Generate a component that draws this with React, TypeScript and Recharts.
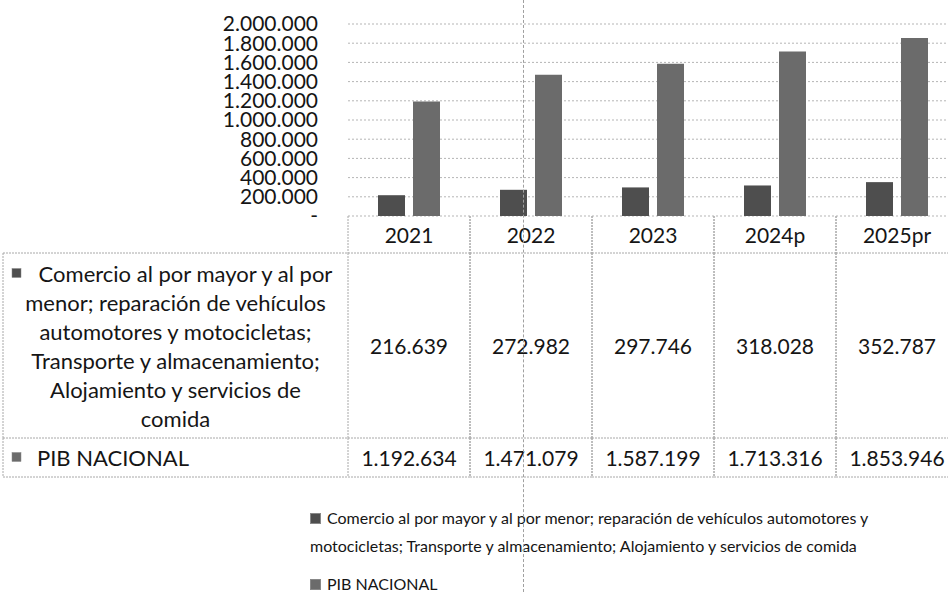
import React from 'react';
import { BarChart, Bar, XAxis, YAxis, CartesianGrid, Legend } from 'recharts';

const years = ['2021', '2022', '2023', '2024p', '2025pr'];
const comercioValues = [216639, 272982, 297746, 318028, 352787];
const pibValues = [1192634, 1471079, 1587199, 1713316, 1853946];
const yTicks = [0, 200000, 400000, 600000, 800000, 1000000, 1200000, 1400000, 1600000, 1800000, 2000000];

const comercioName =
  'Comercio al por mayor y al por menor; reparación de vehículos automotores y motocicletas; Transporte y almacenamiento; Alojamiento y servicios de comida';
const comercioLegendLines = [
  'Comercio al por mayor y al por menor; reparación de vehículos automotores y',
  'motocicletas; Transporte y almacenamiento; Alojamiento y servicios de comida',
];
const comercioTableLines = [
  'Comercio al por mayor y al por',
  'menor; reparación de vehículos',
  'automotores y motocicletas;',
  'Transporte y almacenamiento;',
  'Alojamiento y servicios de',
  'comida',
];
const pibName = 'PIB NACIONAL';

const data = years.map((year, i) => ({ year, comercio: comercioValues[i], pib: pibValues[i] }));

const FONT = 'Lato, "Open Sans", sans-serif';
const TEXT = '#151515';
const BORDER = '#a8a8a8';
const COMERCIO_COLOR = '#4e4e4e';
const PIB_COLOR = '#6b6b6b';
const TABLE_LEFT = 3;

const fmt = (n: number) => (n === 0 ? '-' : String(n).replace(/\B(?=(\d{3})+(?!\d))/g, '.'));

const Icon = ({ x, y, color }: { x: number; y: number; color: string }) => (
  <rect x={x} y={y} width={9} height={9} fill={color} stroke="#888" strokeWidth={0.5} />
);

const makeTick = (rowH: number, kind: 'header' | 'comercio' | 'pib') => (props: any) => {
  const { x, y, payload, index } = props;
  const half = payload && payload.offset ? payload.offset : 61;
  const left = x - half;
  const right = x + half;
  const cy = y + rowH / 2;
  const dash = '2 1';
  let text = '';
  if (kind === 'header') text = String(payload.value);
  else if (kind === 'comercio') text = fmt(comercioValues[index]);
  else text = fmt(pibValues[index]);
  return (
    <g>
      <line x1={left} y1={y} x2={left} y2={y + rowH} stroke={BORDER} strokeDasharray={dash} />
      <line x1={right} y1={y} x2={right} y2={y + rowH} stroke={BORDER} strokeDasharray={dash} />
      <line x1={left} y1={y + rowH} x2={right} y2={y + rowH} stroke={BORDER} strokeDasharray={dash} />
      <text x={x} y={cy} textAnchor="middle" dominantBaseline="central" fontSize={21} fill={TEXT} fontFamily={FONT}>
        {text}
      </text>
      {index === 0 && kind !== 'header' && (
        <g>
          <line x1={TABLE_LEFT} y1={y} x2={TABLE_LEFT} y2={y + rowH} stroke={BORDER} strokeDasharray={dash} />
          <line x1={TABLE_LEFT} y1={y + rowH} x2={left} y2={y + rowH} stroke={BORDER} strokeDasharray={dash} />
          {kind === 'comercio' ? (
            <g>
              <Icon x={TABLE_LEFT + 9} y={cy - 77} color={COMERCIO_COLOR} />
              {comercioTableLines.map((ln, i) => (
                <text
                  key={i}
                  x={(TABLE_LEFT + left) / 2 + (i === 0 ? 10 : 0)}
                  y={cy + (i - (comercioTableLines.length - 1) / 2) * 29}
                  textAnchor="middle"
                  dominantBaseline="central"
                  fontSize={22}
                  fill={TEXT}
                  fontFamily={FONT}
                >
                  {ln}
                </text>
              ))}
            </g>
          ) : (
            <g>
              <Icon x={TABLE_LEFT + 9} y={cy - 5} color={PIB_COLOR} />
              <text x={TABLE_LEFT + 34} y={cy} dominantBaseline="central" fontSize={22} fill={TEXT} fontFamily={FONT}>
                {pibName}
              </text>
            </g>
          )}
        </g>
      )}
      {index === 0 && kind === 'header' && (
        <line x1={TABLE_LEFT} y1={y + rowH} x2={left} y2={y + rowH} stroke={BORDER} strokeDasharray={dash} />
      )}
    </g>
  );
};

const LegendSwatch = ({ color }: { color: string }) => (
  <span
    style={{
      display: 'inline-block',
      width: 9,
      height: 9,
      background: color,
      border: '0.5px solid #888',
      marginRight: 6,
      verticalAlign: 'middle',
      position: 'relative',
      top: -1,
    }}
  />
);

const renderLegend = () => (
  <div style={{ position: 'relative', height: 115, fontFamily: FONT, fontSize: 16, color: TEXT }}>
    <div style={{ position: 'absolute', left: 310, top: 27, lineHeight: '28px', textAlign: 'left', whiteSpace: 'nowrap' }}>
      <LegendSwatch color={COMERCIO_COLOR} />
      {comercioLegendLines[0]}
      <br />
      {comercioLegendLines[1]}
    </div>
    <div style={{ position: 'absolute', left: 310, top: 93, lineHeight: '28px', textAlign: 'left', whiteSpace: 'nowrap' }}>
      <LegendSwatch color={PIB_COLOR} />
      {pibName}
    </div>
  </div>
);

export default function App() {
  return (
    <div style={{ position: 'absolute', left: 0, top: 0, width: 948, height: 592, overflow: 'hidden', background: '#fff' }}>
      <BarChart
        width={958}
        height={592}
        data={data}
        margin={{ top: 24, right: 0, left: 0, bottom: 0 }}
        barGap={8}
        barSize={27}
      >
        <CartesianGrid vertical={false} stroke="#b5b5b5" strokeDasharray="2 2" />
        <YAxis
          width={348}
          domain={[0, 2000000]}
          ticks={yTicks}
          interval={0}
          axisLine={false}
          tickLine={false}
          tickSize={0}
          tickMargin={30}
          tickFormatter={fmt}
          tick={{ fontSize: 21, fill: TEXT, fontFamily: FONT }}
        />
        <XAxis
          xAxisId="header"
          dataKey="year"
          height={37}
          axisLine={false}
          tickLine={false}
          tickSize={0}
          tickMargin={0}
          interval={0}
          tick={makeTick(37, 'header')}
        />
        <XAxis
          xAxisId="row1"
          dataKey="year"
          height={185}
          axisLine={false}
          tickLine={false}
          tickSize={0}
          tickMargin={0}
          interval={0}
          tick={makeTick(185, 'comercio')}
        />
        <XAxis
          xAxisId="row2"
          dataKey="year"
          height={39}
          axisLine={false}
          tickLine={false}
          tickSize={0}
          tickMargin={0}
          interval={0}
          tick={makeTick(39, 'pib')}
        />
        <Legend verticalAlign="bottom" content={renderLegend} />
        <Bar xAxisId="header" dataKey="comercio" name={comercioName} fill={COMERCIO_COLOR} isAnimationActive={false} />
        <Bar xAxisId="header" dataKey="pib" name={pibName} fill={PIB_COLOR} isAnimationActive={false} />
      </BarChart>
      <div
        style={{
          position: 'absolute',
          left: 523,
          top: 0,
          width: 0,
          height: 592,
          borderLeft: '1px dashed #a0a0a0',
          pointerEvents: 'none',
        }}
      />
    </div>
  );
}
